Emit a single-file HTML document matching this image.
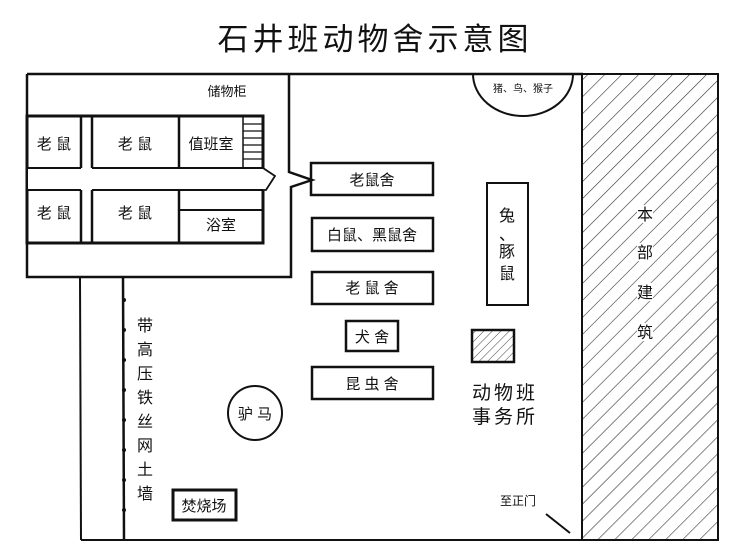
<!DOCTYPE html>
<html><head><meta charset="utf-8"><style>
body{margin:0;background:#fff}
svg{display:block}
text{font-family:"Liberation Sans","Noto Sans CJK SC",sans-serif;fill:#111}
</style></head><body>
<svg width="750" height="558" viewBox="0 0 750 558" xmlns="http://www.w3.org/2000/svg">
<defs>
<pattern id="h" patternUnits="userSpaceOnUse" width="12" height="12" patternTransform="rotate(45)">
<line x1="0" y1="0" x2="0" y2="12" stroke="#333" stroke-width="1.2"/>
</pattern>
<pattern id="h2" patternUnits="userSpaceOnUse" width="6" height="6" patternTransform="rotate(45)">
<line x1="0" y1="0" x2="0" y2="6" stroke="#444" stroke-width="1"/>
</pattern>
</defs>
<text x="375" y="50" font-size="31" text-anchor="middle" letter-spacing="4">石井班动物舍示意图</text>
<g stroke="#111" fill="none">
<line x1="27" y1="74" x2="583" y2="74" stroke-width="2.5"/>
<polyline points="289,74 289,172 312,180 291,187 291,277 27,277 27,74" stroke-width="2.5"/>
<rect x="27" y="116" width="236" height="127" stroke-width="3"/>
<rect x="28" y="168" width="240" height="22" fill="#fff" stroke="none"/>
<line x1="27" y1="168" x2="81" y2="168" stroke-width="2"/>
<line x1="92" y1="168" x2="263" y2="168" stroke-width="2"/>
<line x1="27" y1="190" x2="81" y2="190" stroke-width="2"/>
<line x1="92" y1="190" x2="263" y2="190" stroke-width="2"/>
<polyline points="263,168 275,176 266,190 263,190" stroke-width="1.8"/>
<line x1="81" y1="116" x2="81" y2="168" stroke-width="2.5"/>
<line x1="92" y1="116" x2="92" y2="168" stroke-width="2.5"/>
<line x1="81" y1="190" x2="81" y2="243" stroke-width="2.5"/>
<line x1="92" y1="190" x2="92" y2="243" stroke-width="2.5"/>
<line x1="179" y1="116" x2="179" y2="168" stroke-width="2.5"/>
<line x1="179" y1="190" x2="179" y2="243" stroke-width="2.5"/>
<line x1="179" y1="210" x2="263" y2="210" stroke-width="2"/>
<line x1="243" y1="116" x2="243" y2="168" stroke-width="1.5"/>
<g stroke-width="1.3">
<line x1="243" y1="124" x2="262" y2="124"/><line x1="243" y1="131" x2="262" y2="131"/>
<line x1="243" y1="138" x2="262" y2="138"/><line x1="243" y1="145" x2="262" y2="145"/>
<line x1="243" y1="152" x2="262" y2="152"/><line x1="243" y1="159" x2="262" y2="159"/>
</g>
<line x1="80" y1="277" x2="81" y2="540" stroke-width="2"/>
<line x1="123" y1="277" x2="124" y2="540" stroke-width="2.5"/>
<line x1="81" y1="540" x2="583" y2="540" stroke-width="2"/>
<rect x="311" y="163" width="122" height="32" stroke-width="2.5"/>
<rect x="312" y="218" width="121" height="33" stroke-width="2.5"/>
<rect x="312" y="272" width="121" height="32" stroke-width="2.5"/>
<rect x="346" y="321" width="52" height="30" stroke-width="2.5"/>
<rect x="312" y="367" width="121" height="32" stroke-width="2.5"/>
<rect x="487" y="183" width="41" height="122" stroke-width="2"/>
<rect x="472" y="330" width="42" height="32" stroke-width="2.5" fill="url(#h2)"/>
<rect x="173" y="490" width="63" height="30" stroke-width="3"/>
<circle cx="255" cy="413" r="27" stroke-width="2"/>
<path d="M473,74 A50,42 0 0 0 573,74" stroke-width="2"/>
<rect x="582" y="74" width="136" height="466" stroke-width="2" fill="url(#h)"/>
<line x1="546" y1="514" x2="570" y2="533" stroke-width="2"/>
</g>
<g fill="#111">
<circle cx="124" cy="300" r="2"/><circle cx="124" cy="330" r="2"/><circle cx="124" cy="360" r="2"/>
<circle cx="124" cy="390" r="2"/><circle cx="124" cy="420" r="2"/><circle cx="124" cy="450" r="2"/>
<circle cx="124" cy="480" r="2"/><circle cx="124" cy="510" r="2"/>
</g>
<g fill="#fff">
<rect x="637" y="205" width="16" height="18"/><rect x="637" y="243" width="16" height="18"/>
<rect x="637" y="283" width="16" height="18"/><rect x="637" y="323" width="16" height="18"/>
</g>
<g font-size="15">
<text x="54" y="149" text-anchor="middle">老 鼠</text>
<text x="135" y="149" text-anchor="middle">老 鼠</text>
<text x="211" y="149" text-anchor="middle">值班室</text>
<text x="54" y="218" text-anchor="middle">老 鼠</text>
<text x="135" y="218" text-anchor="middle">老 鼠</text>
<text x="221" y="230" text-anchor="middle">浴室</text>
<text x="227" y="96" text-anchor="middle" font-size="13">储物柜</text>
<text x="372" y="185" text-anchor="middle">老鼠舍</text>
<text x="372" y="240" text-anchor="middle">白鼠、黑鼠舍</text>
<text x="372" y="293" text-anchor="middle">老 鼠 舍</text>
<text x="372" y="342" text-anchor="middle">犬 舍</text>
<text x="372" y="389" text-anchor="middle">昆 虫 舍</text>
<text x="255" y="419" text-anchor="middle">驴 马</text>
<text x="204" y="511" text-anchor="middle">焚烧场</text>
<text x="523" y="92" text-anchor="middle" font-size="10">猪、鸟、猴子</text>
<text x="500" y="505" font-size="12">至正门</text>
</g>
<g font-size="16" text-anchor="middle">
<text x="507" y="221">兔</text><text x="507" y="240">、</text><text x="507" y="257">豚</text><text x="507" y="279">鼠</text>
<text x="645" y="220">本</text><text x="645" y="258">部</text><text x="645" y="298">建</text><text x="645" y="338">筑</text>
<text x="145" y="331">带</text><text x="145" y="355">高</text><text x="145" y="379">压</text><text x="145" y="403">铁</text>
<text x="145" y="427">丝</text><text x="145" y="451">网</text><text x="145" y="475">土</text><text x="145" y="499">墙</text>
</g>
<text x="505" y="399" font-size="19" text-anchor="middle" letter-spacing="3">动物班</text>
<text x="505" y="423" font-size="19" text-anchor="middle" letter-spacing="3">事务所</text>
</svg>
</body></html>
